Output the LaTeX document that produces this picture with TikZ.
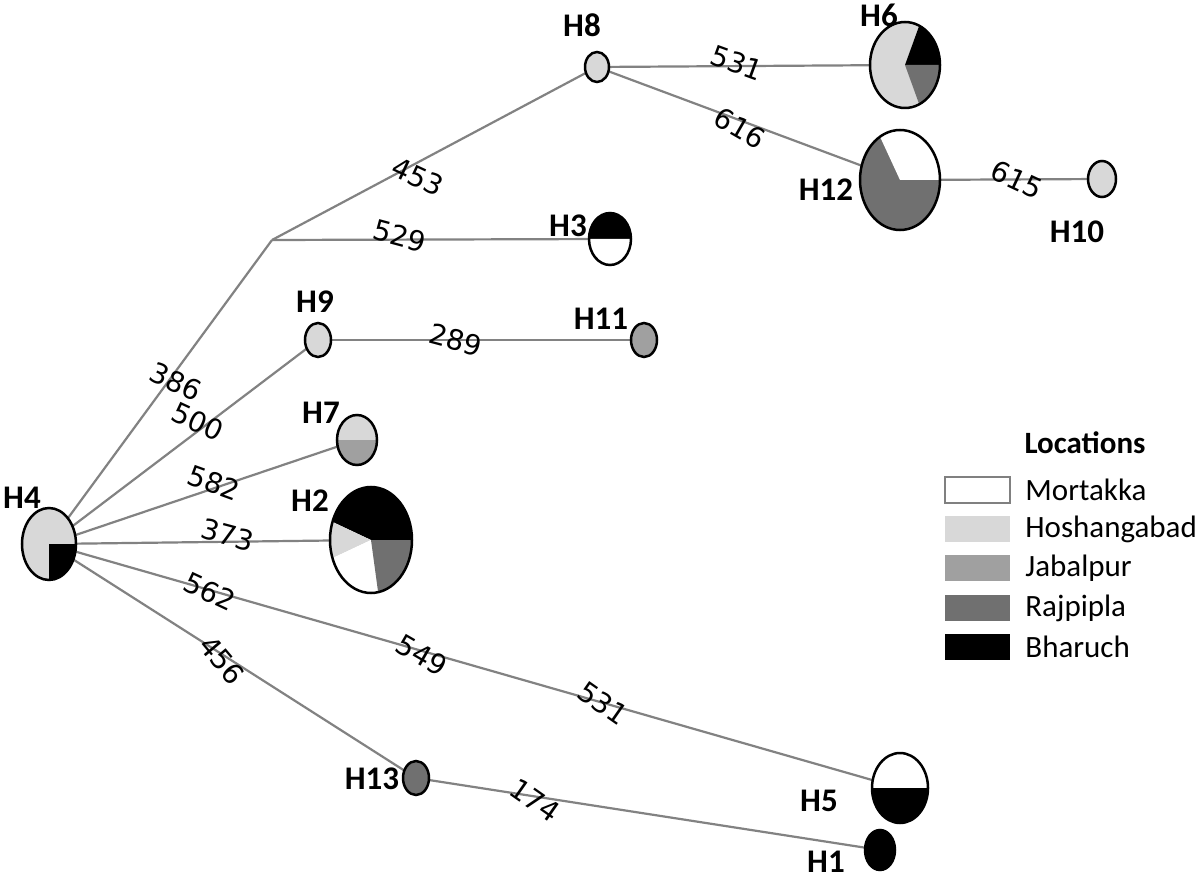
\documentclass[tikz,border=0pt]{standalone}
\usepackage{fontspec}
\setmainfont{Carlito}
\newfontfamily\numfont{DejaVu Sans}
\usetikzlibrary{shapes.geometric}
\definecolor{cMor}{RGB}{255,255,255}
\definecolor{cHos}{RGB}{216,216,216}
\definecolor{cJab}{RGB}{160,160,160}
\definecolor{cRaj}{RGB}{112,112,112}
\definecolor{cBha}{RGB}{0,0,0}
\definecolor{edgegray}{RGB}{130,130,130}
\newcommand\pslice[6]{\begin{scope}[shift={(#1.center)},xscale=#2,yscale=-#3]\fill[#6] (0,0) -- plot[domain=#4:#5,samples=40] ({cos(\x)},{sin(\x)}) -- cycle;\end{scope}}
\newcommand\poutline[3]{\draw[line width=1.25pt] (#1.center) ellipse [x radius=#2, y radius=#3];}
\tikzset{
  hap/.style={ellipse, inner sep=0pt, outer sep=0pt},
  edge/.style={draw=edgegray, line width=1.1pt},
  elab/.style={font=\numfont\fontsize{14}{15}\selectfont, inner sep=0pt},
  hlab/.style={font=\bfseries\fontsize{16.5}{18}\selectfont, inner sep=0pt},
  legtxt/.style={font=\fontsize{15.5}{17}\selectfont, anchor=west, inner sep=0pt},
  legbox/.style={minimum width=32.5pt, minimum height=13pt, inner sep=0pt, outer sep=0pt}
}
\begin{document}
\begin{tikzpicture}[x=0.5pt,y=-0.5pt]
\useasboundingbox[fill=white] (0,0) rectangle (1200,882);
% haplotype nodes (positions and sizes)
\node[hap, minimum width=27pt, minimum height=36pt] (h4) at (49,544) {};
\node[hap, minimum width=12pt, minimum height=15pt] (h8) at (597,67) {};
\node[hap, minimum width=35pt, minimum height=43pt] (h6) at (905,65) {};
\node[hap, minimum width=40pt, minimum height=50pt] (h12) at (900,180) {};
\node[hap, minimum width=14pt, minimum height=18pt] (h10) at (1102,179) {};
\node[hap, minimum width=21pt, minimum height=26pt] (h3) at (610,239) {};
\node[hap, minimum width=13pt, minimum height=17pt] (h9) at (318,340) {};
\node[hap, minimum width=13pt, minimum height=17pt] (h11) at (644,340) {};
\node[hap, minimum width=20pt, minimum height=25pt] (h7) at (357,440) {};
\node[hap, minimum width=41pt, minimum height=53pt] (h2) at (371,540) {};
\node[hap, minimum width=28pt, minimum height=35pt] (h5) at (900,788) {};
\node[hap, minimum width=15pt, minimum height=20pt] (h1) at (880,850) {};
\node[hap, minimum width=13pt, minimum height=17pt] (h13) at (416,778) {};
\coordinate (br) at (272,240);
% connectors
\draw[edge] (h4) -- (br);
\draw[edge] (br) -- (h8);
\draw[edge] (br) -- (h3);
\draw[edge] (h8) -- (h6);
\draw[edge] (h8) -- (h12);
\draw[edge] (h12.center) -- (h10);
\draw[edge] (h4) -- (h9);
\draw[edge] (h9) -- (h11);
\draw[edge] (h4) -- (h7);
\draw[edge] (h4) -- (h2);
\draw[edge] (h4) -- (h5);
\draw[edge] (h4) -- (h13);
\draw[edge] (h13) -- (h1);
% edge labels
\node[elab, rotate=-20] (l531a) at (737,63) {531};
\node[elab, rotate=-30] (l616) at (740,128) {616};
\node[elab, rotate=-25] (l615) at (1017,180) {615};
\node[elab, rotate=-25] (l453) at (418,177) {453};
\node[elab, rotate=-15] (l529) at (400,236) {529};
\node[elab, rotate=-25] (l386) at (176,382) {386};
\node[elab, rotate=-25] (l500) at (198,422) {500};
\node[elab, rotate=-15] (l289) at (456,340) {289};
\node[elab, rotate=-20] (l582) at (214,483) {582};
\node[elab, rotate=-15] (l373) at (228,535) {373};
\node[elab, rotate=-25] (l562) at (210,592) {562};
\node[elab, rotate=-30] (l549) at (422,655) {549};
\node[elab, rotate=-35] (l531b) at (603,703) {531};
\node[elab, rotate=-50] (l456) at (222,660) {456};
\node[elab, rotate=-35] (l174) at (535,800) {174};
% pies
\pslice{h4}{27}{36}{0}{360}{cHos}
\pslice{h4}{27}{36}{-90}{0}{cBha}
\pslice{h8}{12}{15}{0}{360}{cHos}
\pslice{h6}{35}{43}{0}{360}{cHos}
\pslice{h6}{35}{43}{0}{66}{cBha}
\pslice{h6}{35}{43}{-66}{0}{cRaj}
\pslice{h12}{40}{50}{0}{360}{cRaj}
\pslice{h12}{40}{50}{0}{120}{cMor}
\pslice{h10}{14}{18}{0}{360}{cHos}
\pslice{h3}{21}{26}{0}{180}{cBha}
\pslice{h3}{21}{26}{180}{360}{cMor}
\pslice{h9}{13}{17}{0}{360}{cHos}
\pslice{h11}{13}{17}{0}{360}{cJab}
\pslice{h7}{20}{25}{0}{180}{cHos}
\pslice{h7}{20}{25}{180}{360}{cJab}
\pslice{h2}{41}{53}{0}{160}{cBha}
\pslice{h2}{41}{53}{160}{200}{cHos}
\pslice{h2}{41}{53}{200}{280}{cMor}
\pslice{h2}{41}{53}{280}{360}{cRaj}
\pslice{h5}{28}{35}{0}{180}{cMor}
\pslice{h5}{28}{35}{180}{360}{cBha}
\pslice{h1}{15}{20}{0}{360}{cBha}
\pslice{h13}{13}{17}{0}{360}{cRaj}
% outlines
\poutline{h4}{27}{36}
\poutline{h8}{12}{15}
\poutline{h6}{35}{43}
\poutline{h12}{40}{50}
\poutline{h10}{14}{18}
\poutline{h3}{21}{26}
\poutline{h9}{13}{17}
\poutline{h11}{13}{17}
\poutline{h7}{20}{25}
\poutline{h2}{41}{53}
\poutline{h5}{28}{35}
\poutline{h1}{15}{20}
\poutline{h13}{13}{17}
% haplotype labels
\node[hlab] (t4) at (22,498) {H4};
\node[hlab] (t8) at (582,25) {H8};
\node[hlab] (t6) at (879,15) {H6};
\node[hlab] (t12) at (826,190) {H12};
\node[hlab] (t10) at (1077,232) {H10};
\node[hlab] (t3) at (568,226) {H3};
\node[hlab] (t9) at (315,302) {H9};
\node[hlab] (t11) at (601,319) {H11};
\node[hlab] (t7) at (321,413) {H7};
\node[hlab] (t2) at (310,501) {H2};
\node[hlab] (t13) at (372,779) {H13};
\node[hlab] (t5) at (819,801) {H5};
\node[hlab] (t1) at (826,862) {H1};
% legend
\node[font=\bfseries\fontsize{15.5}{17}\selectfont, inner sep=0pt] (legtitle) at (1085,443) {Locations};
\node[legbox, fill=cMor, draw=gray, line width=0.8pt] (bm) at (977.5,490) {};
\node[legbox, fill=cHos] (bh) at (977.5,529) {};
\node[legbox, fill=cJab] (bj) at (977.5,568) {};
\node[legbox, fill=cRaj] (brj) at (977.5,608) {};
\node[legbox, fill=cBha] (bb) at (977.5,647) {};
\node[legtxt] (lm) at (1025,490) {Mortakka};
\node[legtxt] (lh) at (1025,529) {Hoshangabad};
\node[legtxt] (lj) at (1025,568) {Jabalpur};
\node[legtxt] (lr) at (1025,608) {Rajpipla};
\node[legtxt] (lb) at (1025,647) {Bharuch};
\end{tikzpicture}
\end{document}
